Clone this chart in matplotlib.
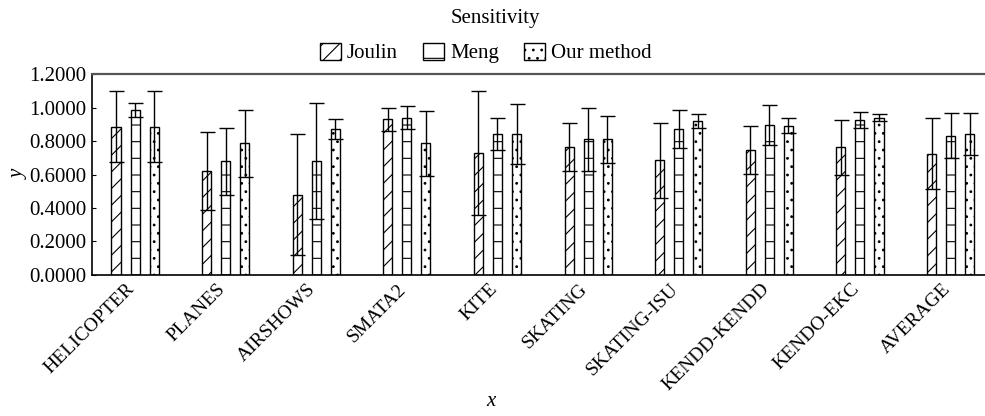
import matplotlib
matplotlib.use('Agg')
import matplotlib.pyplot as plt
import matplotlib.transforms as mtransforms
import numpy as np

# 数据
categories = ['HELICOPTER', 'PLANES', 'AIRSHOWS', 'SMATA2', 'KITE', 'SKATING',
              'SKATING-ISU', 'KENDD-KENDD', 'KENDO-EKC', 'AVERAGE']
series_names = ['Joulin', 'Meng', 'Our method']
joulin = [0.886, 0.620, 0.480, 0.930, 0.726, 0.765, 0.685, 0.745, 0.762, 0.725]
joulin_err = [0.213, 0.232, 0.360, 0.068, 0.370, 0.145, 0.225, 0.142, 0.163, 0.210]
meng = [0.985, 0.680, 0.680, 0.940, 0.842, 0.810, 0.870, 0.895, 0.925, 0.832]
meng_err = [0.044, 0.200, 0.345, 0.070, 0.097, 0.190, 0.113, 0.120, 0.050, 0.135]
ours = [0.886, 0.786, 0.872, 0.786, 0.842, 0.810, 0.920, 0.890, 0.940, 0.842]
ours_err = [0.213, 0.200, 0.060, 0.195, 0.180, 0.140, 0.040, 0.045, 0.020, 0.125]
y_ticks = [0.0, 0.2, 0.4, 0.6, 0.8, 1.0, 1.2]

plt.rcParams['font.family'] = ['Liberation Serif', 'DejaVu Serif']
plt.rcParams['font.size'] = 15
plt.rcParams['hatch.linewidth'] = 0.8

fig = plt.figure(figsize=(9.85, 4.16), dpi=100)
ax = fig.add_axes([0.0934, 0.339, 0.9066, 0.483])

x = np.arange(len(categories))
width = 0.1
offsets = [-0.21, 0.0, 0.21]
hatches = ['//', '-', '..']
values = [joulin, meng, ours]
errors = [joulin_err, meng_err, ours_err]

for vals, errs, off, h, name in zip(values, errors, offsets, hatches, series_names):
    ax.bar(x + off, vals, width, facecolor='white', edgecolor='black',
           linewidth=1.0, hatch=h, label=name, zorder=2)
    ax.errorbar(x + off, vals, yerr=errs, fmt='none', ecolor='black',
                elinewidth=1.0, capsize=5.4, capthick=1.0, zorder=3)

ax.set_xlim(-0.475, 9.38)
ax.set_ylim(0, 1.2)
ax.set_yticks(y_ticks)
ax.set_yticklabels(['%.4f' % v for v in y_ticks])
ax.set_xticks(x)
ax.set_xticklabels(categories, rotation=45, ha='right', rotation_mode='anchor', fontsize=14)
ax.tick_params(axis='y', direction='in', length=3, width=0.8, pad=4)
ax.tick_params(axis='x', length=0, pad=4)

# 标签整体左移一点
shift = mtransforms.ScaledTranslation(-9 / 100, 0, fig.dpi_scale_trans)
for lab in ax.get_xticklabels():
    lab.set_transform(lab.get_transform() + shift)

ax.spines['right'].set_visible(False)
ax.spines['top'].set_color('#555555')
ax.spines['top'].set_linewidth(1.6)
ax.spines['left'].set_linewidth(1.2)
ax.spines['bottom'].set_linewidth(1.2)

ax.set_ylabel('y', style='italic', labelpad=0)
fig.text(0.498, 1 - 402 / 416, 'x', style='italic', ha='center', va='center', fontsize=15)

# 标题和图例
fig.text(0.503, 1 - 18 / 416, 'Sensitivity', ha='center', va='center', fontsize=15)
fig.legend(loc='center', bbox_to_anchor=(0.493, 1 - 53 / 416), ncol=3, frameon=False,
           handlelength=1.0, handleheight=0.9, handletextpad=0.3,
           columnspacing=1.2, fontsize=15)

plt.savefig('out.png', dpi=100)
